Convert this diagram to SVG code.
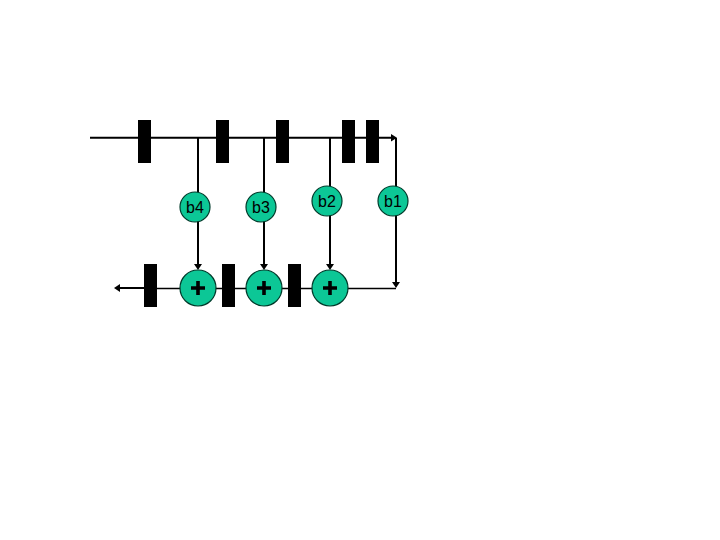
<svg xmlns="http://www.w3.org/2000/svg" width="720" height="540" viewBox="0 0 720 540">
<style>
.bar{fill:#000}
.c{fill:#0cc796;stroke:#003a2a;stroke-width:1.2}
.w{fill:none;stroke:#000;stroke-width:2}
.t{fill:none;stroke:#000;stroke-width:1.4}
text{font-family:"Liberation Sans",Arial,sans-serif;font-size:16px;fill:#000;text-anchor:middle}
.plus{fill:none;stroke:#000;stroke-width:3.6}
.h{fill:#000}
</style>
<rect width="720" height="540" fill="#fff"/>
<g id="connectors">
<path class="w" d="M90 137.700H392"/>
<path class="h" d="M397 137.700L391 134V141.500Z"/>
<path class="w" d="M198 138V266M264 138V266M330 138V266M396 138V284"/>
<path class="h" d="M198 270L194 264H202Z"/>
<path class="h" d="M264 270L260 264H268Z"/>
<path class="h" d="M330 270L326 264H334Z"/>
<path class="h" d="M396 288L392 282H400Z"/>
<path class="t" d="M396 288.500H157"/>
<path class="w" d="M144 288H118"/>
<path class="h" d="M114 288L120 284V292Z"/>
</g>
<g id="bars-top">
<rect class="bar" x="138" y="120" width="13" height="43"/>
<rect class="bar" x="216" y="120" width="13" height="43"/>
<rect class="bar" x="276" y="120" width="13" height="43"/>
<rect class="bar" x="342" y="120" width="13" height="43"/>
<rect class="bar" x="366" y="120" width="13" height="43"/>
</g>
<g id="bars-bottom">
<rect class="bar" x="144" y="264" width="13" height="43"/>
<rect class="bar" x="222" y="264" width="13" height="43"/>
<rect class="bar" x="288" y="264" width="13" height="43"/>
</g>
<g id="b4"><circle class="c" cx="195" cy="207" r="15"/><text x="195" y="213">b4</text></g>
<g id="b3"><circle class="c" cx="261" cy="207" r="15"/><text x="261" y="213">b3</text></g>
<g id="b2"><circle class="c" cx="327" cy="201" r="15"/><text x="327" y="207">b2</text></g>
<g id="b1"><circle class="c" cx="393" cy="201" r="15"/><text x="393" y="207">b1</text></g>
<g id="add1"><circle class="c" cx="198" cy="288" r="18"/><path class="plus" d="M191 288H205M198 281V295"/></g>
<g id="add2"><circle class="c" cx="264" cy="288" r="18"/><path class="plus" d="M257 288H271M264 281V295"/></g>
<g id="add3"><circle class="c" cx="330" cy="288" r="18"/><path class="plus" d="M323 288H337M330 281V295"/></g>
</svg>
